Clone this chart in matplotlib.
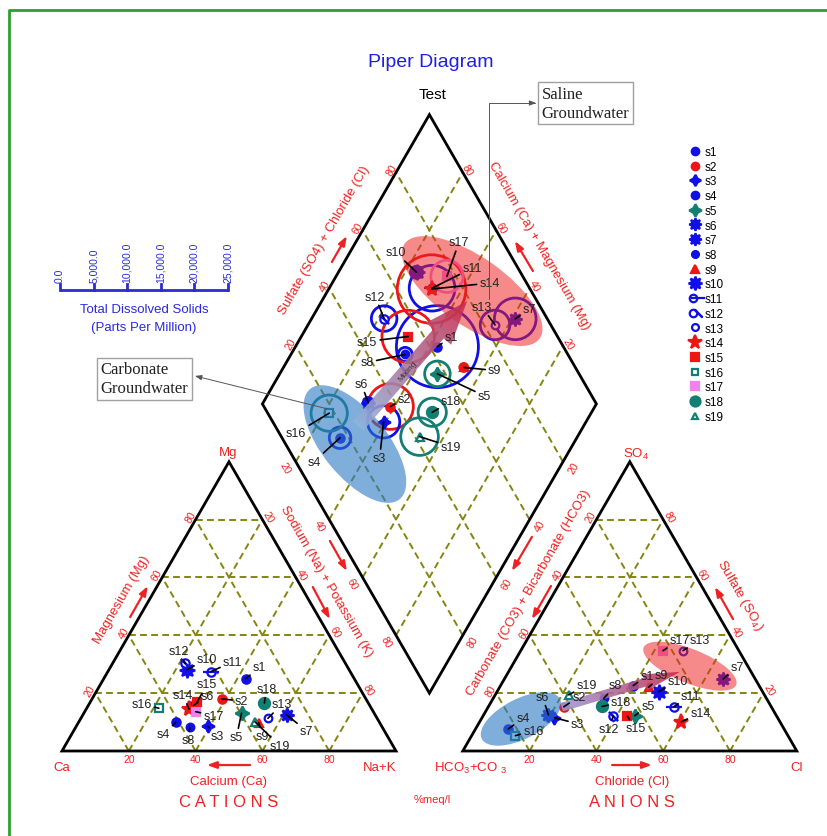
import numpy as np
import matplotlib.pyplot as plt
from matplotlib.patches import Polygon, Circle, Ellipse, FancyArrow
from matplotlib.lines import Line2D
from matplotlib.colors import LinearSegmentedColormap
from matplotlib.legend_handler import HandlerTuple

plt.rcParams['font.family'] = ['Liberation Sans', 'DejaVu Sans']
plt.rcParams['mathtext.fontset'] = 'custom'
plt.rcParams['mathtext.rm'] = 'Liberation Sans'

# Composicion de las muestras (% meq/l)
samples = [f's{i}' for i in range(1, 20)]
ca   = [32.6, 43.2, 52.1, 61.0, 39.7, 52.8, 26.5, 57.6, 36.2, 48.5, 41.8, 48.0, 32.7, 54.7, 51.2, 63.6, 53.2, 31.1, 37.2]
mg   = [24.9, 18.0,  8.5,  9.9, 13.1, 15.7, 12.5,  8.2,  9.8, 28.1, 27.4, 30.3, 11.3, 14.5, 16.8, 14.8, 13.6, 16.6, 10.1]
nak  = [42.5, 38.8, 39.4, 29.1, 47.2, 31.5, 61.0, 34.2, 54.0, 23.4, 30.8, 21.7, 56.0, 30.8, 32.0, 21.6, 33.2, 52.3, 52.7]
hco3 = [37.7, 62.1, 66.8, 82.6, 42.4, 68.1,  9.6, 48.7, 33.4, 31.1, 29.2, 48.8, 16.7, 29.5, 44.7, 81.6, 22.7, 50.6, 58.6]
so4  = [22.6, 15.3, 11.5,  7.6, 12.2, 12.5, 24.9, 18.2, 22.0, 20.5, 15.3, 12.2, 34.7, 10.1, 12.0,  5.3, 34.7, 15.4, 19.4]
cl   = [39.7, 22.6, 21.7,  9.8, 45.4, 19.4, 65.5, 33.1, 44.6, 48.4, 55.5, 39.0, 48.6, 60.4, 43.3, 13.1, 42.6, 34.0, 22.0]
tds  = [6100, 3400, 2400, 1600, 1900, 750, 3100, 1050, 600, 900, 3400, 1900, 2200, 5100, 3900, 2700, 2400, 2100, 2800]

tds_ticks = [0, 5000, 10000, 15000, 20000, 25000]
grid_vals = [20, 40, 60, 80]

# Estilo de cada muestra
BLUE, RED, TEAL, VIOLET = '#1010e6', '#ee1515', '#127f72', '#ee82ee'
colors  = [BLUE, RED, BLUE, BLUE, TEAL, BLUE, BLUE, BLUE, RED, BLUE, BLUE, BLUE, BLUE, RED, RED, TEAL, VIOLET, TEAL, TEAL]
markers = ['o', 'o', (4, 1, 0), 'o', (4, 1, 0), (8, 1, 0), (8, 1, 0), 'o', '^', (8, 1, 0),
           'o', 'o', 'o', '*', 's', 's', 's', 'o', '^']
msizes  = [6, 6, 9, 6, 10, 10, 10, 5.5, 6, 11, 6, 6, 5.5, 11, 6, 5.5, 6, 8, 5.5]
faces   = [None, None, None, None, None, None, None, None, None, None,
           'white', 'white', 'white', None, None, 'white', None, None, 'white']
extras  = {10: ('_', 11), 11: ((2, 2, 45), 9)}

# Desplazamiento de las etiquetas (pixeles)
cat_off = [(14, 12), (20, -2), (9, -10), (-12, -12), (-5, -24), (14, 10), (20, -16), (-2, -13), (4, -13), (20, 11),
           (22, 10), (-6, 12), (14, 14), (-6, 14), (10, 18), (-17, 4), (18, -4), (2, 14), (25, -24)]
an_off = [(14, 10), (15, 10), (23, -6), (15, 11), (13, 10), (-6, 18), (14, 12), (12, 13), (13, 12), (19, 11),
          (17, 11), (-5, -13), (17, 11), (19, 9), (8, -12), (18, 5), (17, 11), (19, 4), (18, 10)]
dia_off = [(14, 10), (14, 8), (-4, -36), (-26, -24), (47, -22), (-7, 19), (14, 10), (-38, -8), (31, -3), (-21, 20),
           (40, 20), (-9, 22), (-13, 18), (58, 6), (-41, -5), (-33, -20), (12, 34), (19, 11), (31, -10)]

H = np.sqrt(3) / 2
GAP = 20
BOT = np.array([100 + GAP / 2, GAP / 2 * np.sqrt(3)])


def cation_xy(m, n):
    return np.asarray(n) + 0.5 * np.asarray(m), H * np.asarray(m)


def anion_xy(s, c):
    return 100 + GAP + np.asarray(c) + 0.5 * np.asarray(s), H * np.asarray(s)


def diamond_xy(camg, so4cl):
    camg, so4cl = np.asarray(camg), np.asarray(so4cl)
    return BOT[0] + 0.5 * (so4cl - camg), BOT[1] + H * (so4cl + camg)


fig = plt.figure(figsize=(8.28, 8.37), dpi=100)
ax = fig.add_axes([0, 0, 1, 1])
ax.axis('off')

# Marco verde
fig.add_artist(Line2D([0.0109, 0.0109, 1.01], [-0.01, 0.9869, 0.9869], transform=fig.transFigure,
                      color='#2e9e2e', lw=2))

grid_kw = dict(color='#858510', lw=1.4, ls=(0, (3.5, 2.2)), zorder=1)
edge_kw = dict(fill=False, ec='black', lw=2, zorder=2, joinstyle='miter')

# Rejillas
for p in grid_vals:
    q = 100 - p
    for a, b in [((p, 0), (p, q)), ((0, p), (q, p)), ((0, q), (q, 0))]:
        x, y = cation_xy([a[0], b[0]], [a[1], b[1]])
        ax.plot(x, y, **grid_kw)
        x, y = anion_xy([a[0], b[0]], [a[1], b[1]])
        ax.plot(x, y, **grid_kw)
    x, y = diamond_xy([p, p], [0, 100])
    ax.plot(x, y, **grid_kw)
    x, y = diamond_xy([0, 100], [p, p])
    ax.plot(x, y, **grid_kw)

tri_c = np.column_stack(cation_xy([0, 0, 100], [0, 100, 0]))
tri_a = np.column_stack(anion_xy([0, 0, 100], [0, 100, 0]))
dia = np.column_stack(diamond_xy([0, 100, 100, 0], [0, 0, 100, 100]))
for verts in (tri_c, tri_a, dia):
    ax.add_patch(Polygon(verts, closed=True, **edge_kw))

# Numeros en los bordes
RED_T = '#ee2222'
tick_kw = dict(color=RED_T, fontsize=7.5, ha='center', va='center', rotation_mode='anchor')


def edge_ticks(pts, labels, normal, dist, rot):
    for (x, y), lab in zip(pts, labels):
        ax.text(x + normal[0] * dist, y + normal[1] * dist, lab, rotation=rot, **tick_kw)


gv = np.array(grid_vals)
lab = [str(v) for v in grid_vals]
lab_r = [str(100 - v) for v in grid_vals]
edge_ticks(zip(*cation_xy(0 * gv, 100 - gv)), lab_r, (0, -1), 2.4, 0)
edge_ticks(zip(*cation_xy(gv, 0 * gv)), lab, (-H, 0.5), 1.8, 60)
edge_ticks(zip(*cation_xy(100 - gv, gv)), lab, (H, 0.5), 2.0, -60)
edge_ticks(zip(*anion_xy(0 * gv, gv)), lab, (0, -1), 2.4, 0)
edge_ticks(zip(*anion_xy(gv, 0 * gv)), lab_r, (-H, 0.5), 1.8, 60)
edge_ticks(zip(*anion_xy(gv, 100 - gv)), lab, (H, 0.5), 2.0, -60)
edge_ticks(zip(*diamond_xy(100 + 0 * gv, gv)), lab, (-H, 0.5), 1.6, 60)
edge_ticks(zip(*diamond_xy(gv, 100 + 0 * gv)), lab, (H, 0.5), 1.6, -60)
edge_ticks(zip(*diamond_xy(100 - gv, 0 * gv)), lab, (-H, -0.5), 3.6, -60)
edge_ticks(zip(*diamond_xy(0 * gv, 100 - gv)), lab, (H, -0.5), 3.6, 60)

# Titulos de los ejes
title_kw = dict(color=RED_T, fontsize=9.5, ha='center', va='center', rotation_mode='anchor')
ax.text(18.0, 45.5, 'Magnesium (Mg)', rotation=60, **title_kw)
ax.text(79.0, 50.9, 'Sodium (Na) + Potassium (K)', rotation=-60, **title_kw)
ax.text(78.4, 153.0, 'Sulfate (SO4) + Chloride (Cl)', rotation=60, **title_kw)
ax.text(142.8, 151.5, 'Calcium (Ca) + Magnesium (Mg)', rotation=-60, **title_kw)
ax.text(139.8, 47.6, 'Carbonate (CO3) + Bicarbonate (HCO3)', rotation=60, **title_kw)
ax.text(203.0, 47.0, r'Sulfate (SO$_4$)', rotation=-60, **title_kw)
ax.text(50.0, -9.0, 'Calcium (Ca)', **title_kw)
ax.text(170.7, -9.0, 'Chloride (Cl)', **title_kw)
ax.text(50.0, -15.2, 'C A T I O N S', color=RED_T, fontsize=12, ha='center', va='center')
ax.text(170.7, -15.2, 'A N I O N S', color=RED_T, fontsize=12, ha='center', va='center')
ax.text(110.8, -14.4, '%meq/l', color=RED_T, fontsize=8, ha='center', va='center')

vert_kw = dict(color=RED_T, fontsize=9.5, ha='center', va='center')
ax.text(0, -4.8, 'Ca', **vert_kw)
ax.text(95.2, -4.8, 'Na+K', **vert_kw)
ax.text(49.7, 89.5, 'Mg', **vert_kw)
ax.text(122.2, -4.8, r'HCO$_3$+CO $_3$', **vert_kw)
ax.text(220.0, -4.8, 'Cl', **vert_kw)
ax.text(171.9, 89.2, r'SO$_4$', **vert_kw)

arrow_kw = dict(arrowstyle='-|>,head_length=0.55,head_width=0.2', color=RED_T, lw=1.6, shrinkA=0, shrinkB=0)
for tail, head in [((20.4, 40.1), (25.7, 49.4)), ((80.2, 62.9), (85.3, 53.9)), ((75.1, 49.1), (80.2, 39.5)),
                   ((80.8, 146.4), (85.3, 154.2)), ((141.0, 143.7), (135.6, 152.7)),
                   ((140.7, 64.1), (134.7, 53.9)), ((146.4, 49.4), (140.7, 39.5)),
                   ((200.9, 39.5), (195.5, 49.1)), ((56.3, -4.2), (43.4, -4.2)), ((164.7, -4.2), (176.6, -4.2))]:
    ax.annotate('', xy=head, xytext=tail, arrowprops=arrow_kw)

ax.text(110.5, 206.3, 'Piper Diagram', color='#1f1fe6', fontsize=14, ha='center', va='center')
ax.text(110.8, 196.6, 'Test', color='black', fontsize=11, ha='center', va='center')

# Escala de solidos disueltos totales
TDS_MAX = 25000
bar_x0, bar_y, bar_len = -0.6, 138.0, 50.3
TDS_C = '#2a2ad8'
ax.plot([bar_x0, bar_x0 + bar_len], [bar_y, bar_y], color=TDS_C, lw=2, solid_capstyle='butt')
for t in tds_ticks:
    x = bar_x0 + t / TDS_MAX * bar_len
    ax.plot([x, x], [bar_y, bar_y + 1.9], color=TDS_C, lw=2)
    ax.text(x, bar_y + 2.5, f'{t:,.1f}', rotation=90, ha='center', va='bottom', fontsize=7.5, color=TDS_C)
ax.text(bar_x0 + bar_len / 2, 132.4, 'Total Dissolved Solids', ha='center', va='center', fontsize=9.5, color=TDS_C)
ax.text(bar_x0 + bar_len / 2, 127.0, '(Parts Per Million)', ha='center', va='center', fontsize=9.5, color=TDS_C)

# Puntos
cx, cy = cation_xy(mg, nak)
axx, axy = anion_xy(so4, cl)
camg = np.array(ca) + np.array(mg)
dx_, dy_ = diamond_xy(camg, np.array(so4) + np.array(cl))


def draw_marker(x, y, i, z=4):
    mfc = faces[i] if faces[i] else colors[i]
    ax.plot(x, y, ls='none', marker=markers[i], ms=msizes[i], color=colors[i], mfc=mfc,
            mec=colors[i], mew=1.6, zorder=z)
    if i in extras:
        m, s = extras[i]
        ax.plot(x, y, ls='none', marker=m, ms=s, color=colors[i], mew=1.6, zorder=z)


for i in range(len(samples)):
    r = tds[i] / TDS_MAX * bar_len
    ax.add_patch(Circle((dx_[i], dy_[i]), r, fill=False, ec=colors[i], lw=2, zorder=3))
    for x, y in [(cx[i], cy[i]), (axx[i], axy[i]), (dx_[i], dy_[i])]:
        draw_marker(x, y, i)

# Agrupaciones
for c, w, h, ang, col, al in [((87.7, 91.9), 42.5, 19.5, -51, '#2a78c4', 0.6),
                              ((122.8, 137.7), 49.4, 20.4, -35, '#ee2020', 0.52),
                              ((137.4, 9.6), 26.3, 12.0, 27, '#2a78c4', 0.6),
                              ((188.0, 25.4), 29.9, 10.2, -22, '#ee2020', 0.52)]:
    ax.add_patch(Ellipse(c, w, h, angle=ang, fc=col, ec='none', alpha=al, zorder=5))


def gradient_arrow(tail, tip, width, head_width, head_length, cols, alpha, z=6):
    tail = np.asarray(tail, float)
    d = np.asarray(tip, float) - tail
    arr = FancyArrow(tail[0], tail[1], d[0], d[1], width=width, head_width=head_width,
                     head_length=head_length, length_includes_head=True, fc='none', ec='none')
    ax.add_patch(arr)
    v = arr.get_xy()
    x0, y0 = v.min(axis=0)
    x1, y1 = v.max(axis=0)
    X, Y = np.meshgrid(np.linspace(x0, x1, 200), np.linspace(y0, y1, 200))
    t = ((X - tail[0]) * d[0] + (Y - tail[1]) * d[1]) / (d ** 2).sum()
    cmap = LinearSegmentedColormap.from_list('mix', cols)
    im = ax.imshow(np.clip(t, 0, 1), extent=(x0, x1, y0, y1), origin='lower', cmap=cmap, vmin=0, vmax=1,
                   alpha=alpha, zorder=z, interpolation='bilinear', aspect='auto')
    im.set_clip_path(arr)


gradient_arrow((88.6, 97.3), (121.3, 134.7), 4.2, 10.0, 13.0, ['#8fb4e0', '#c8284a'], 0.88)
gradient_arrow((149.6, 13.1), (185.0, 23.7), 2.6, 5.0, 11.0, ['#9a9ad8', '#c82848'], 0.88)
ax.text(103.6, 113.8, 'Mixing', rotation=49, fontsize=6, color='#333333', ha='center', va='center',
        rotation_mode='anchor', zorder=7)

# Etiquetas de las muestras
lbl_kw = dict(textcoords='offset pixels', ha='center', va='center', fontsize=9, color='#222222', zorder=8,
              arrowprops=dict(arrowstyle='-', color='black', lw=1.2, shrinkA=0, shrinkB=0))
for i, name in enumerate(samples):
    ax.annotate(name, xy=(cx[i], cy[i]), xytext=cat_off[i], **lbl_kw)
    ax.annotate(name, xy=(axx[i], axy[i]), xytext=an_off[i], **lbl_kw)
    ax.annotate(name, xy=(dx_[i], dy_[i]), xytext=dia_off[i], **lbl_kw)

# Cuadros de texto
box_kw = dict(fontsize=12, family=['Liberation Serif', 'DejaVu Serif'], ha='left', va='center',
              linespacing=1.25, color='#222222',
              bbox=dict(boxstyle='square,pad=0.2', fc='white', ec='#a0a0a0', lw=1), zorder=9)
ax.text(11.6, 111.4, 'Carbonate\nGroundwater', **box_kw)
ax.text(143.6, 194.0, 'Saline\nGroundwater', **box_kw)
ax.annotate('', xy=(39.8, 112.3), xytext=(79.6, 102.4),
            arrowprops=dict(arrowstyle='-|>,head_length=0.4,head_width=0.15', color='#555555', lw=0.7,
                            shrinkA=0, shrinkB=0), zorder=9)
ax.annotate('', xy=(142.0, 194.0), xytext=(127.8, 135.3),
            arrowprops=dict(arrowstyle='-|>,head_length=0.4,head_width=0.15', color='#555555', lw=0.7,
                            shrinkA=0, shrinkB=0, connectionstyle='angle,angleA=90,angleB=0,rad=0'),
            zorder=9)

# Leyenda
handles = []
for i in range(len(samples)):
    mfc = faces[i] if faces[i] else colors[i]
    h = Line2D([], [], ls='none', marker=markers[i], ms=msizes[i] * 0.9, color=colors[i], mfc=mfc,
               mec=colors[i], mew=1.6)
    if i in extras:
        m, s = extras[i]
        h = (h, Line2D([], [], ls='none', marker=m, ms=s * 0.9, color=colors[i], mew=1.6))
    handles.append(h)
ax.legend(handles, samples, loc='upper left', bbox_to_anchor=(690 / 828, 1 - 147 / 837),
          bbox_transform=fig.transFigure, frameon=False, fontsize=8.5, handlelength=0.9,
          handletextpad=0.3, labelspacing=0.23, borderpad=0, borderaxespad=0,
          handler_map={tuple: HandlerTuple(ndivide=None, pad=0)})

s = 3.34
ax.set_xlim(-62 / s, (828 - 62) / s)
ax.set_ylim((752 - 837) / s, 752 / s)
ax.set_aspect('equal')

fig.savefig('out.png', dpi=100)
